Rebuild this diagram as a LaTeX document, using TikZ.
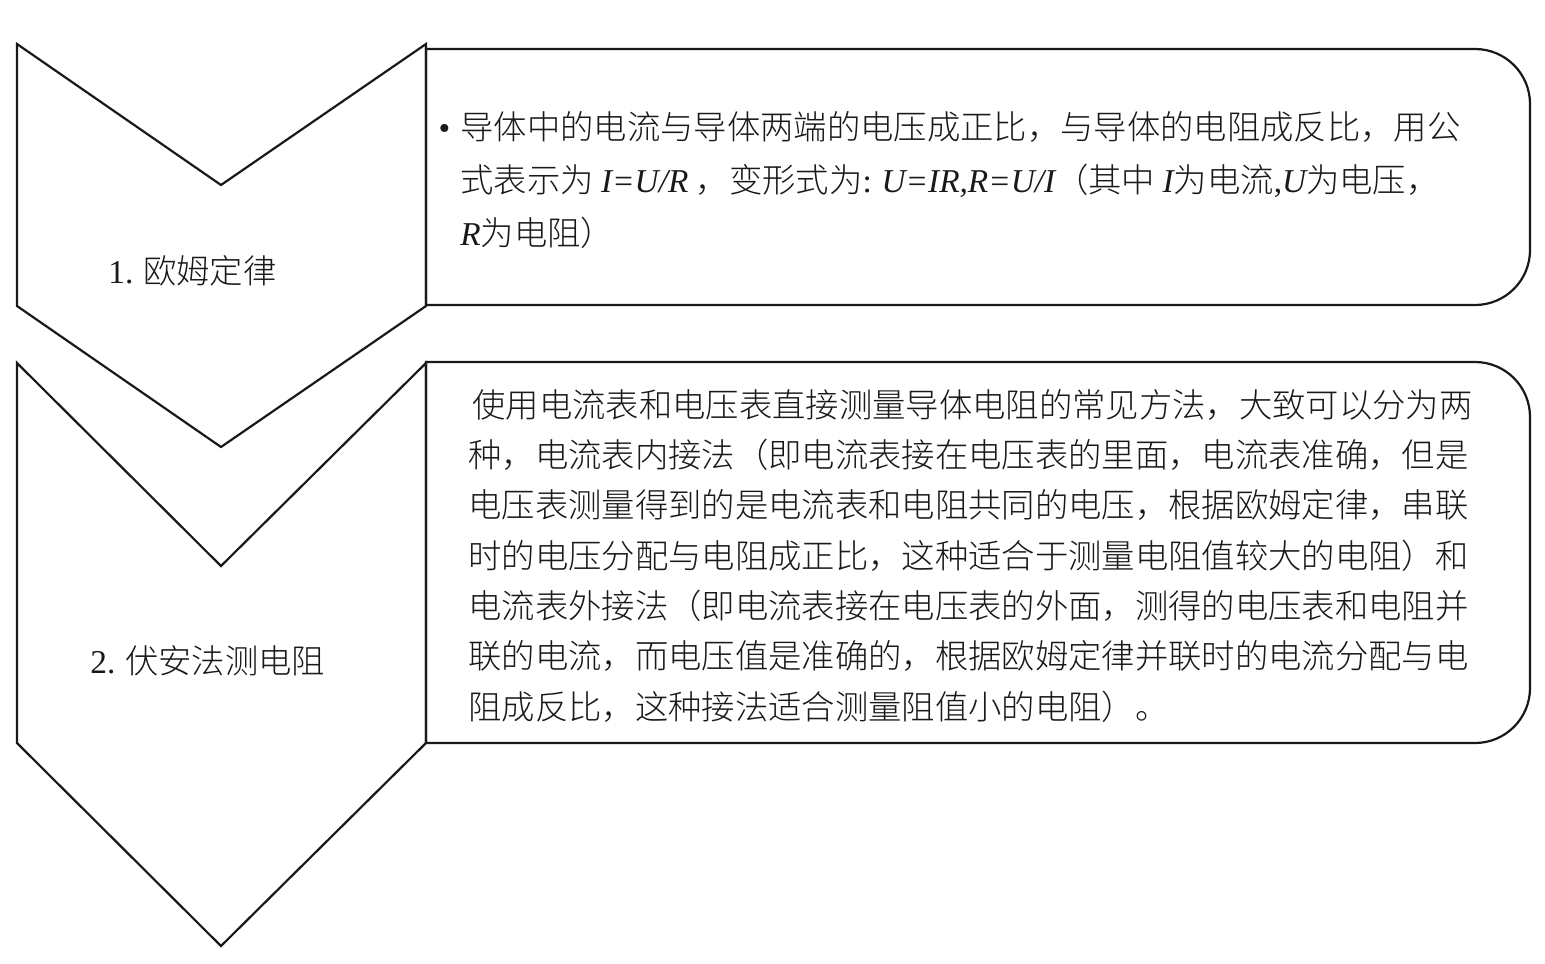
\documentclass[tikz,border=0pt]{standalone}
\usepackage{fontspec}
\setmainfont{Liberation Serif}
\newfontfamily\cjk{Noto Sans CJK SC}[UprightFont={* Light}]
\newcommand{\latit}[1]{{\rmfamily\itshape #1}}

\begin{document}
\begin{tikzpicture}[x=0.5pt,y=-0.5pt,
    chev/.style={draw=black!90, line width=1.1pt, line join=miter},
    panel/.style={draw=black!90, line width=1.1pt},
    txt/.style={inner sep=0pt, anchor=base west, align=left, text=black!90,
                font=\cjk\fontsize{16.67pt}{25.15pt}\selectfont}]
   \useasboundingbox (0,0) rectangle (1545,963);

   % chevrons
   \draw[chev] (17,44) -- (221,185) -- (426,44) -- (426,306) -- (221,447) -- (17,306) -- cycle;
   \draw[chev] (17,363) -- (221,566) -- (426,363) -- (426,743) -- (221,946) -- (17,743) -- cycle;

   % panels, rounded on the right
   \draw[panel] (426,49) -- (1475,49) arc[start angle=90, end angle=0, radius=27.5pt]
      -- (1530,250) arc[start angle=0, end angle=-90, radius=27.5pt] -- (426,305) -- cycle;
   \draw[panel] (426,362) -- (1475,362) arc[start angle=90, end angle=0, radius=27.5pt]
      -- (1530,688) arc[start angle=0, end angle=-90, radius=27.5pt] -- (426,743) -- cycle;

   \node[txt] (ohm) at (108,283) {{\rmfamily 1.} 欧姆定律};
   \node[txt] (va)  at (90,673)  {{\rmfamily 2.} 伏安法测电阻};

   % base anchor sits on the last line
   \node[txt, font=\cjk\fontsize{16.67pt}{26.5pt}\selectfont] (ohmtxt) at (460,245)
      {\llap{{\rmfamily •}\hspace{5pt}}导体中的电流与导体两端的电压成正比，与导体的电阻成反比，用公\\
       式表示为 \latit{I=U/R} ，变形式为{\rmfamily:} \latit{U=IR,R=U/I}（其中 \latit{I}为电流{\rmfamily,}\latit{U}为电压，\\
       \latit{R}为电阻）};
   \node[txt] (vatxt) at (468,719)
      {\hspace{2pt}使用电流表和电压表直接测量导体电阻的常见方法，大致可以分为两\\
       种，电流表内接法（即电流表接在电压表的里面，电流表准确，但是\\
       电压表测量得到的是电流表和电阻共同的电压，根据欧姆定律，串联\\
       时的电压分配与电阻成正比，这种适合于测量电阻值较大的电阻）和\\
       电流表外接法（即电流表接在电压表的外面，测得的电压表和电阻并\\
       联的电流，而电压值是准确的，根据欧姆定律并联时的电流分配与电\\
       阻成反比，这种接法适合测量阻值小的电阻）。};
\end{tikzpicture}
\end{document}
